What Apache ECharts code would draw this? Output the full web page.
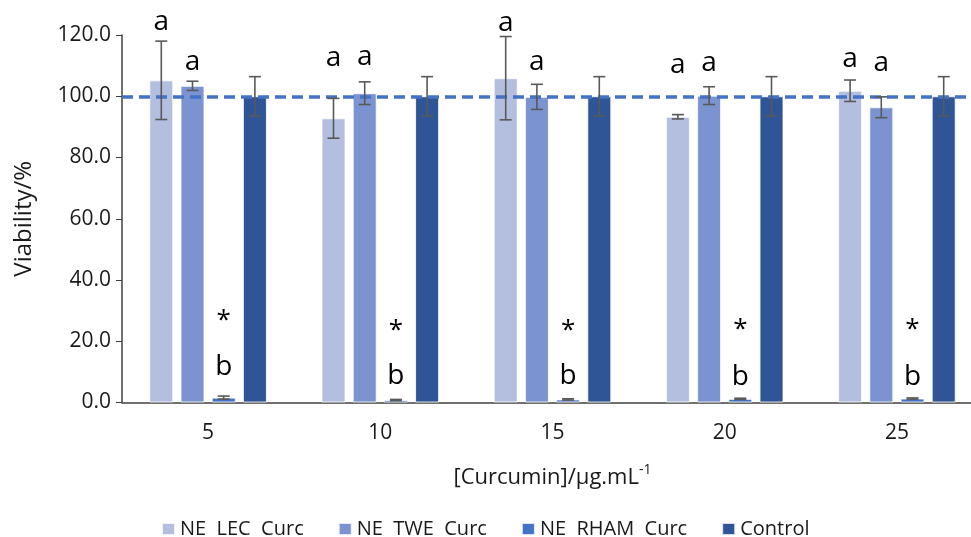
<!DOCTYPE html>
<html>
<head>
<meta charset="utf-8">
<script src="https://cdn.jsdelivr.net/npm/echarts@6/dist/echarts.min.js"></script>
<style>
  html, body { margin: 0; padding: 0; background: #fff; }
  #chart { width: 971px; height: 537px; }
</style>
</head>
<body>
<div id="chart"></div>
<script>
const categories = ['5', '10', '15', '20', '25'];
const seriesNames = ['NE  LEC  Curc', 'NE  TWE  Curc', 'NE  RHAM  Curc', 'Control'];
const colors = ['#b4bfe0', '#7b93d1', '#4472c4', '#2f5597'];

// mean viability (%)
const lecMean = [105.2, 92.8, 105.9, 93.3, 101.8];
const tweMean = [103.4, 101.0, 99.8, 100.2, 96.4];
const rhamMean = [1.6, 0.8, 1.0, 1.2, 1.3];
const ctrlMean = [100.0, 100.0, 100.0, 100.0, 100.0];

// standard deviation
const lecErr = [12.8, 6.5, 13.6, 0.7, 3.5];
const tweErr = [1.5, 3.7, 4.1, 2.9, 3.4];
const rhamErr = [0.5, 0.2, 0.2, 0.2, 0.2];
const ctrlErr = [6.4, 6.4, 6.4, 6.4, 6.4];

// significance letters and the height (in %) they sit at
const lecLetter = ['a', 'a', 'a', 'a', 'a'];
const lecLetterY = [124.3, 112.5, 123.8, 110.2, 112.1];
const tweLetter = ['a', 'a', 'a', 'a', 'a'];
const tweLetterY = [111.2, 112.8, 111.3, 110.8, 110.8];
const rhamLetter = ['b', 'b', 'b', 'b', 'b'];
const rhamLetterY = [11.7, 8.6, 8.6, 8.4, 8.4];
const rhamStar = ['*', '*', '*', '*', '*'];
const rhamStarY = [26.9, 23.5, 23.5, 23.7, 23.7];

const yTicks = { min: 0, max: 120, interval: 20 };

const means = [lecMean, tweMean, rhamMean, ctrlMean];
const errs = [lecErr, tweErr, rhamErr, ctrlErr];

const barW = 24;
const barGapPx = 7.2;
const offsetOf = s => (s - 1.5) * (barW + barGapPx);

// error bar data: [category, mean, err, series]
const errData = [];
means.forEach((m, s) => m.forEach((v, i) => errData.push([i, v, errs[s][i], s])));

// annotation data
const notes = [];
const pushNotes = (texts, ys, s) => texts.forEach((t, i) => notes.push({ v: [i, ys[i]], t: t, s: s }));
pushNotes(lecLetter, lecLetterY, 0);
pushNotes(tweLetter, tweLetterY, 1);
pushNotes(rhamLetter, rhamLetterY, 2);
pushNotes(rhamStar, rhamStarY, 2);

const chart = echarts.init(document.getElementById('chart'));

const barSeries = means.map((m, s) => ({
  name: seriesNames[s],
  type: 'bar',
  data: m,
  barWidth: barW,
  barGap: (barGapPx / barW * 100) + '%',
  itemStyle: { color: colors[s], borderColor: 'rgba(255,255,255,0.8)', borderWidth: 1 },
  silent: true,
  z: 2
}));

barSeries[3].markLine = {
  symbol: 'none',
  silent: true,
  label: { show: false },
  lineStyle: { color: '#4472c4', width: 3.5, type: [11, 6] },
  data: [{ yAxis: 100 }],
  z: 5
};

const option = {
  animation: false,
  textStyle: { fontFamily: 'Open Sans' },
  grid: { left: 122, top: 35, width: 861, height: 367.5, outerBoundsMode: 'none', containLabel: false },
  legend: {
    data: seriesNames,
    left: 156,
    top: 514,
    icon: 'rect',
    itemWidth: 13,
    itemHeight: 12,
    itemGap: 34,
    textStyle: { fontSize: 20, color: '#1a1a1a', fontFamily: 'Open Sans' }
  },
  xAxis: {
    type: 'category',
    data: categories,
    axisLine: { lineStyle: { color: '#404040', width: 1.5 } },
    axisTick: { show: false },
    axisLabel: { fontSize: 21, color: '#1a1a1a', margin: 20 },
    name: '{a|[Curcumin]/μg.mL}{s|-1}',
    nameLocation: 'middle',
    nameGap: 61,
    nameTextStyle: {
      rich: {
        a: { fontSize: 22, color: '#1a1a1a', lineHeight: 28, fontFamily: 'Open Sans' },
        s: { fontSize: 14, color: '#1a1a1a', lineHeight: 16, verticalAlign: 'top', fontFamily: 'Open Sans' }
      }
    }
  },
  yAxis: {
    type: 'value',
    min: yTicks.min,
    max: yTicks.max,
    interval: yTicks.interval,
    axisLine: { show: true, lineStyle: { color: '#404040', width: 1.5 } },
    axisTick: { show: true, length: 6, lineStyle: { color: '#404040' } },
    splitLine: { show: false },
    axisLabel: { fontSize: 21, color: '#1a1a1a', margin: 11, formatter: v => v.toFixed(1) },
    name: 'Viability/%',
    nameLocation: 'middle',
    nameRotate: 90,
    nameGap: 86,
    nameTextStyle: { fontSize: 24, color: '#1a1a1a' }
  },
  series: barSeries.concat([
    {
      type: 'custom',
      silent: true,
      z: 10,
      data: errData,
      renderItem: function (params, api) {
        const i = api.value(0), m = api.value(1), e = api.value(2), s = api.value(3);
        const x = api.coord([i, m])[0] + offsetOf(s);
        const top = api.coord([i, m + e])[1];
        const bot = api.coord([i, Math.max(m - e, 0)])[1];
        const cap = 6;
        const style = { stroke: '#595959', lineWidth: 1.6 };
        return {
          type: 'group',
          children: [
            { type: 'line', shape: { x1: x, y1: top, x2: x, y2: bot }, style: style },
            { type: 'line', shape: { x1: x - cap, y1: top, x2: x + cap, y2: top }, style: style },
            { type: 'line', shape: { x1: x - cap, y1: bot, x2: x + cap, y2: bot }, style: style }
          ]
        };
      }
    },
    {
      type: 'custom',
      silent: true,
      z: 11,
      data: notes.map(n => n.v),
      renderItem: function (params, api) {
        const n = notes[params.dataIndex];
        const p = api.coord([api.value(0), api.value(1)]);
        return {
          type: 'text',
          x: p[0] + offsetOf(n.s),
          y: p[1],
          style: {
            text: n.t,
            fill: '#000',
            font: (n.t === '*' ? '26px' : '28px') + ' "Open Sans"',
            textAlign: 'center',
            textVerticalAlign: 'middle'
          }
        };
      }
    }
  ])
};

chart.setOption(option);
</script>
</body>
</html>
